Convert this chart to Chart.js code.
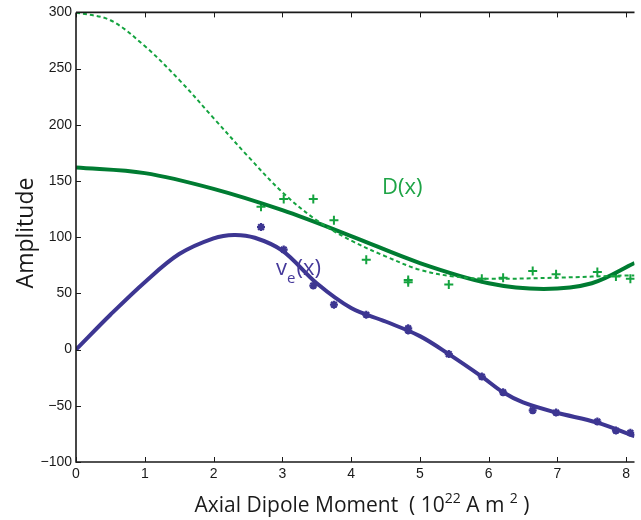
<!DOCTYPE html>
<html>
<head>
<meta charset="utf-8">
<script src="https://cdn.jsdelivr.net/npm/chart.js@4/dist/chart.umd.min.js"></script>
<style>
  html, body { margin: 0; padding: 0; background: #fff; }
  #wrap { width: 641px; height: 520px; }
</style>
</head>
<body>
<div id="wrap"><canvas id="chart" width="641" height="520"></canvas></div>
<script>
// curves
const dX = [0, 1, 2, 3, 4, 5, 6, 6.8, 7.5, 8.12];
const dSolid = [162, 157, 143, 124, 101, 77, 59, 54, 59, 77];

const dashX = [0, 0.5, 1, 1.5, 2, 2.5, 3, 3.5, 4, 4.5, 5, 5.5, 6, 7, 8, 8.12];
const dDashed = [300, 293, 270, 240, 206, 172, 140, 115, 97, 83, 71, 65, 63, 64, 66, 66];

const veX = [0, 0.5, 1, 1.5, 2, 2.3, 2.6, 3, 3.5, 4, 4.5, 5, 5.42, 5.9, 6.21, 6.5, 6.98, 7.58, 8.12];
const veCurve = [0, 31, 60, 85, 99, 102, 99.5, 88, 59, 37, 25, 12, -4, -24, -38, -47, -56, -65, -77];

// observed points
const obsX = [2.69, 3.02, 3.45, 3.75, 4.22, 4.83, 4.83, 5.42, 5.9, 6.21, 6.64, 6.98, 7.58, 7.85, 8.06];
const dObs = [127, 134, 134, 115, 80, 60, 62, 58, 63, 64, 70, 67, 69, 65, 63];
const veObs = [109, 89, 57, 40, 31, 17, 19, -4, -24, -38, -54, -56, -64, -72, -74];

const xTicks = [0, 1, 2, 3, 4, 5, 6, 7, 8];
const yTicks = [-100, -50, 0, 50, 100, 150, 200, 250, 300];

const green = "#007c32";
const greenLight = "#14a33f";
const purple = "#3d3692";

function pts(xs, ys) {
  return xs.map(function (x, i) { return { x: x, y: ys[i] }; });
}

const axesPlugin = {
  id: "axesPlugin",
  afterDraw: function (chart) {
    const ctx = chart.ctx;
    const a = chart.chartArea;
    const xs = chart.scales.x;
    const ys = chart.scales.y;
    ctx.save();
    ctx.strokeStyle = "#1a1a1a";
    ctx.lineWidth = 1.6;
    ctx.beginPath();
    ctx.moveTo(a.left, a.top);
    ctx.lineTo(a.left, a.bottom);
    ctx.lineTo(a.right, a.bottom);
    ctx.moveTo(a.left, a.top);
    ctx.lineTo(a.right, a.top);
    ctx.stroke();
    ctx.lineWidth = 1;
    ctx.beginPath();
    xTicks.forEach(function (v) {
      const px = Math.round(xs.getPixelForValue(v)) + 0.5;
      ctx.moveTo(px, a.bottom);
      ctx.lineTo(px, a.bottom - 5);
      ctx.moveTo(px, a.top);
      ctx.lineTo(px, a.top + 5);
    });
    yTicks.forEach(function (v) {
      const py = Math.round(ys.getPixelForValue(v)) + 0.5;
      ctx.moveTo(a.left, py);
      ctx.lineTo(a.left + 5, py);
    });
    ctx.stroke();

    // y title
    ctx.fillStyle = "#1a1a1a";
    ctx.font = "23px 'Open Sans'";
    ctx.textAlign = "center";
    ctx.textBaseline = "alphabetic";
    ctx.translate(33, 233);
    ctx.rotate(-Math.PI / 2);
    ctx.fillText("Amplitude", 0, 0);
    ctx.setTransform(1, 0, 0, 1, 0, 0);

    // x title with superscripts
    const big = "21px 'Open Sans'";
    const small = "14px 'Open Sans'";
    const parts = [
      ["Axial Dipole Moment  ( 10", big, 0],
      ["22", small, -9],
      [" A m ", big, 0],
      ["2", small, -9],
      [" )", big, 0]
    ];
    let total = 0;
    parts.forEach(function (p) { ctx.font = p[1]; total += ctx.measureText(p[0]).width; });
    let x = 362 - total / 2;
    ctx.textAlign = "left";
    parts.forEach(function (p) {
      ctx.font = p[1];
      ctx.fillText(p[0], x, 512 + p[2]);
      x += ctx.measureText(p[0]).width;
    });

    // curve labels
    ctx.fillStyle = "#1ea446";
    ctx.font = "22px 'Open Sans'";
    ctx.fillText("D(x)", 382, 194);

    ctx.fillStyle = "#45399a";
    let lx = 276;
    ctx.font = "22px 'Open Sans'";
    ctx.fillText("v", lx, 275);
    lx += ctx.measureText("v").width;
    ctx.font = "15px 'Open Sans'";
    ctx.fillText("e", lx, 283);
    lx += ctx.measureText("e").width + 1;
    ctx.font = "22px 'Open Sans'";
    ctx.fillText("(x)", lx, 275);
    ctx.restore();
  }
};

const ctx = document.getElementById("chart").getContext("2d");

new Chart(ctx, {
  type: "scatter",
  data: {
    datasets: [
      {
        label: "D dashed",
        data: pts(dashX, dDashed),
        showLine: true,
        borderColor: greenLight,
        borderWidth: 2,
        borderDash: [4, 3],
        pointRadius: 0,
        tension: 0.35
      },
      {
        label: "D",
        data: pts(dX, dSolid),
        showLine: true,
        borderColor: green,
        borderWidth: 4,
        pointRadius: 0,
        tension: 0.35
      },
      {
        label: "ve",
        data: pts(veX, veCurve),
        showLine: true,
        borderColor: purple,
        borderWidth: 4,
        pointRadius: 0,
        tension: 0.35
      },
      {
        label: "D obs",
        data: pts(obsX, dObs),
        pointStyle: "cross",
        pointRadius: 4.5,
        borderColor: greenLight,
        borderWidth: 2,
        backgroundColor: greenLight
      },
      {
        label: "ve obs",
        data: pts(obsX, veObs),
        pointStyle: "star",
        pointRadius: 4,
        borderColor: purple,
        borderWidth: 2.2,
        backgroundColor: purple
      }
    ]
  },
  options: {
    responsive: false,
    animation: false,
    events: [],
    layout: { padding: { top: 12, right: 0, left: 0, bottom: 0 } },
    plugins: {
      legend: { display: false },
      tooltip: { enabled: false }
    },
    scales: {
      x: {
        type: "linear",
        min: 0,
        max: 8.12,
        grid: { display: false, drawTicks: false },
        border: { display: false },
        afterFit: function (s) { s.height = 58; },
        afterBuildTicks: function (s) { s.ticks = xTicks.map(function (v) { return { value: v }; }); },
        ticks: {
          color: "#1a1a1a",
          font: { family: "'Liberation Sans', Arial", size: 14 },
          padding: 4,
          maxRotation: 0,
          autoSkip: false
        }
      },
      y: {
        min: -100,
        max: 300,
        grid: { display: false, drawTicks: false },
        border: { display: false },
        afterFit: function (s) { s.width = 76; },
        afterBuildTicks: function (s) { s.ticks = yTicks.map(function (v) { return { value: v }; }); },
        ticks: {
          color: "#1a1a1a",
          font: { family: "'Liberation Sans', Arial", size: 14 },
          padding: 4,
          callback: function (v) { return String(v).replace("-", "\u2212"); }
        }
      }
    }
  },
  plugins: [axesPlugin]
});
</script>
</body>
</html>
